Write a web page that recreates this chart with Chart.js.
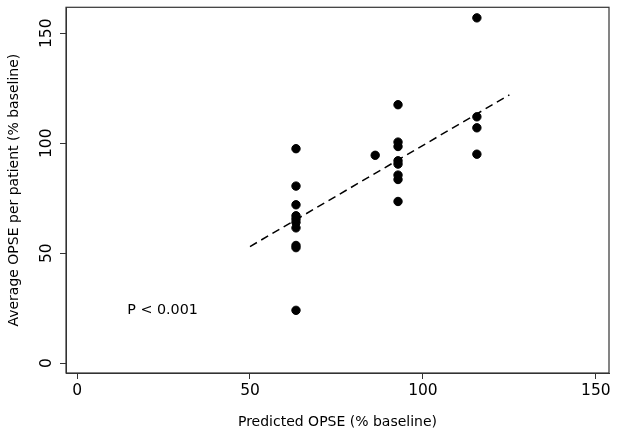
<!DOCTYPE html>
<html><head><meta charset="utf-8">
<script src="https://cdn.jsdelivr.net/npm/chart.js@4"></script>
<style>html,body{margin:0;padding:0;background:#fff}</style>
</head><body>
<canvas id="c" width="618" height="437"></canvas>
<script>
// Data
const predictedX = [63.3,63.3,63.3,63.3,63.3,63.3,63.3,63.3,63.3,63.3, 86.2, 92.8,92.8,92.8,92.8,92.8,92.8,92.8,92.8, 115.6,115.6,115.6,115.6];
const averageY   = [97.5,80.5,72,67,65.5,64,61.5,53.5,52.5,24, 94.5, 117.5,100.5,98.5,92,90.5,85.5,83.5,73.5, 157,112,107,95];
const fitX = [50, 125];
const fitY = [53, 122];
const xTicks = [0, 50, 100, 150];
const yTicks = [0, 50, 100, 150];
const xTitle = 'Predicted OPSE (% baseline)';
const yTitle = 'Average OPSE per patient (% baseline)';
const pLabel = 'P < 0.001';
const pPos = [14.5, 24];

const FAM = '"DejaVu Sans", sans-serif';

const boxPlugin = {
  id: 'box',
  afterDraw(chart) {
    const {ctx, chartArea: a, scales: {x, y}} = chart;
    ctx.save();
    ctx.strokeStyle = '#333';
    ctx.lineWidth = 1.2;
    ctx.strokeRect(a.left, a.top, a.right - a.left, a.bottom - a.top);
    ctx.fillStyle = '#000';
    ctx.font = '14.3px ' + FAM;
    ctx.textAlign = 'left';
    ctx.textBaseline = 'middle';
    ctx.fillText(pLabel, x.getPixelForValue(pPos[0]), y.getPixelForValue(pPos[1]));
    ctx.restore();
  }
};

new Chart(document.getElementById('c'), {
  type: 'scatter',
  data: {
    datasets: [
      {
        type: 'scatter',
        data: predictedX.map((v, i) => ({x: v, y: averageY[i]})),
        backgroundColor: '#000',
        borderColor: '#000',
        pointRadius: 4.2,
        pointHoverRadius: 4.2,
        order: 1
      },
      {
        type: 'line',
        data: fitX.map((v, i) => ({x: v, y: fitY[i]})),
        borderColor: '#000',
        borderWidth: 1.5,
        borderDash: [8, 5],
        pointRadius: 0,
        fill: false,
        order: 2
      }
    ]
  },
  options: {
    responsive: false,
    animation: false,
    layout: {padding: {top: 7, right: 9, left: 0, bottom: 0}},
    plugins: {legend: {display: false}, tooltip: {enabled: false}},
    scales: {
      x: {
        type: 'linear', min: -3.2, max: 153.8,
        afterBuildTicks: s => { s.ticks = xTicks.map(v => ({value: v})); },
        afterFit: s => { s.height = 64; },
        grid: {drawOnChartArea: false, drawTicks: true, tickLength: 6, color: '#333'},
        border: {display: true, color: '#333', width: 1},
        ticks: {color: '#000', font: {size: 15.5, family: FAM}, padding: 3, maxRotation: 0, minRotation: 0},
        title: {display: true, text: xTitle, color: '#000', font: {size: 14, family: FAM}, padding: {top: 4, bottom: 6}}
      },
      y: {
        type: 'linear', min: -4.5, max: 161.8,
        afterBuildTicks: s => { s.ticks = yTicks.map(v => ({value: v})); },
        afterFit: s => { s.width = 66; },
        grid: {drawOnChartArea: false, drawTicks: true, tickLength: 6, color: '#333'},
        border: {display: true, color: '#333', width: 1},
        ticks: {color: '#000', font: {size: 15.5, family: FAM}, padding: -2, minRotation: 90, maxRotation: 90, crossAlign: 'center'},
        title: {display: true, text: yTitle, color: '#000', font: {size: 14, family: FAM}, padding: {top: 6, bottom: 4}}
      }
    }
  },
  plugins: [boxPlugin]
});
</script>
</body></html>
